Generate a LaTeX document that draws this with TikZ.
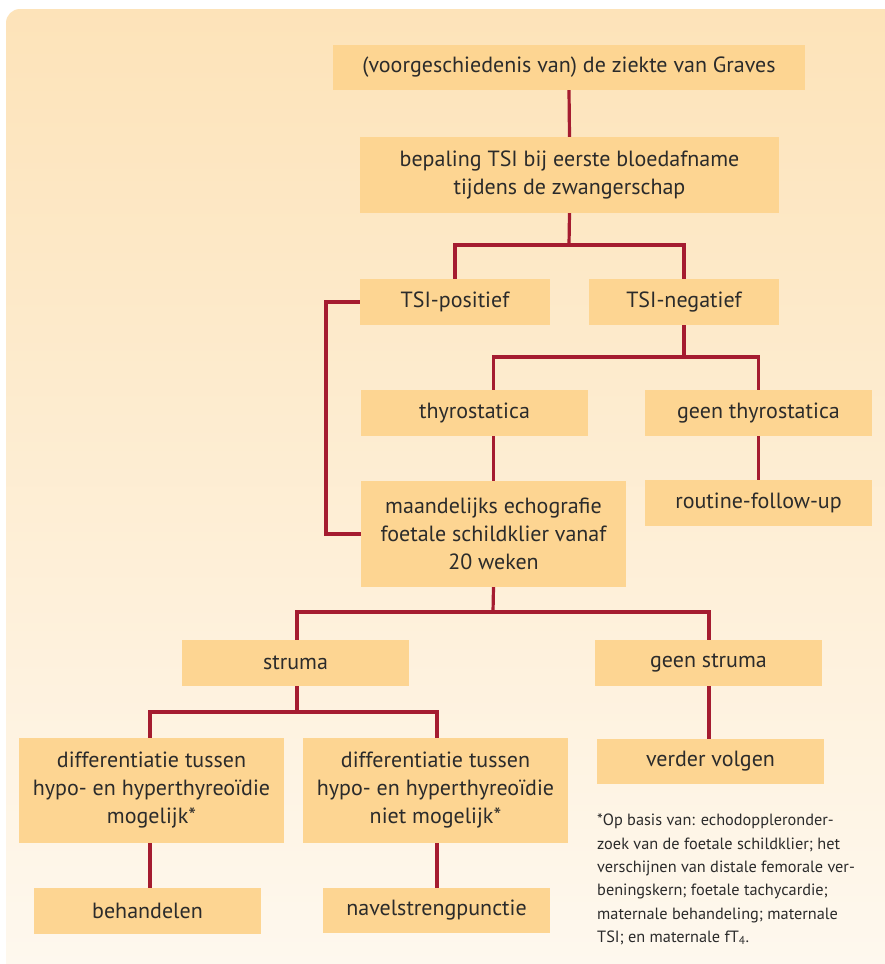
\documentclass[tikz,border=0pt]{standalone}
\usepackage{fontspec}
\setmainfont{PT Sans}
\definecolor{bgtop}{HTML}{FDE3B9}
\definecolor{bgbot}{HTML}{FEF8EE}
\definecolor{boxfill}{HTML}{FDD592}
\definecolor{linkred}{HTML}{A51C30}
\definecolor{txt}{HTML}{2B2B2B}
\tikzset{
  stepbox/.style={fill=boxfill, draw=none, inner sep=0pt, align=center, text=txt,
    font=\fontsize{22}{28}\selectfont},
  link/.style={draw=linkred, line width=3.2pt, line cap=butt, line join=miter},
}
\newcommand{\bx}[6]{% name, x1, y1, x2, y2, text
  \node[stepbox, minimum width={(#4-#2)*1pt}, minimum height={(#5-#3)*1pt}]
    (#1) at ({(#2+#4)/2},{(#3+#5)/2}) {#6};}
\begin{document}
\begin{tikzpicture}[x=1pt,y=-1pt]
\useasboundingbox (0,0) rectangle (885,964);
\fill[white] (0,0) rectangle (885,964);
\shade[top color=bgtop, bottom color=bgbot] (885,964) -- (6,964) -- (6,23)
  arc[start angle=180,end angle=270,radius=14] -- (885,9) -- cycle;

\bx{n1}{333}{45}{805}{90}{(voorgeschiedenis van) de ziekte van Graves}
\bx{n2}{360}{137}{779}{213}{bepaling TSI bij eerste bloedafname\\tijdens de zwangerschap}
\bx{pos}{360}{279}{550}{325}{TSI-positief}
\bx{neg}{589}{279}{779}{325}{TSI-negatief}
\bx{thy}{361}{390}{588}{436}{thyrostatica}
\bx{gthy}{645}{390}{872}{436}{geen thyrostatica}
\bx{mnd}{361}{481}{626}{587}{maandelijks echografie\\foetale schildklier vanaf\\20 weken}
\bx{rfu}{645}{480}{872}{526}{routine-follow-up}
\bx{str}{182}{640}{409}{686}{struma}
\bx{gstr}{595}{640}{822}{686}{geen struma}
\bx{dfa}{19}{738}{284}{843}{differentiatie tussen\\hypo- en hyperthyreoïdie\\mogelijk*}
\bx{dfb}{303}{738}{568}{843}{differentiatie tussen\\hypo- en hyperthyreoïdie\\niet mogelijk*}
\bx{ver}{597}{739}{824}{784}{verder volgen}
\bx{beh}{34}{888}{261}{934}{behandelen}
\bx{nav}{323}{888}{550}{933}{navelstrengpunctie}

\node[anchor=north west, inner sep=0pt, align=left, text=txt,
  font=\fontsize{16.3}{23.3}\selectfont] (note) at (597,814)
  {*Op basis van: echodoppleronder-\\zoek van de foetale schildklier; het\\verschijnen van distale femorale ver-\\beningskern; foetale tachycardie;\\maternale behandeling; maternale\\TSI; en maternale fT\textsubscript{4}.};

\coordinate (j1) at (569,245);
\coordinate (j2) at (684,357);
\coordinate (j3) at (493,612);
\coordinate (j4) at (297,712);
\coordinate (lp) at (326,302);

\draw[link] (n1.south) -- (n2.north);
\draw[link] (n2.south) -- (j1);
\draw[link] (pos.north) |- (j1) -| (neg.north);
\draw[link] (pos.west) -- (lp) |- (mnd.west);
\draw[link] (neg.south) -- (j2);
\draw[link] (thy.north -| mnd.north) |- (j2) -| (gthy.north);
\draw[link] (thy.south -| mnd.north) -- (mnd.north);
\draw[link] (gthy.south) -- (rfu.north);
\draw[link] (mnd.south) -- (j3);
\draw[link] (str.north -| j4) |- (j3) -| (gstr.north -| 709,0);
\draw[link] (str.south -| j4) -- (j4);
\draw[link] (dfa.north -| 150,0) |- (j4) -| (dfb.north -| 437,0);
\draw[link] (gstr.south -| 709,0) -- (ver.north -| 709,0);
\draw[link] (dfa.south -| 150,0) -- (beh.north -| 150,0);
\draw[link] (dfb.south -| 437,0) -- (nav.north -| 437,0);
\end{tikzpicture}
\end{document}
